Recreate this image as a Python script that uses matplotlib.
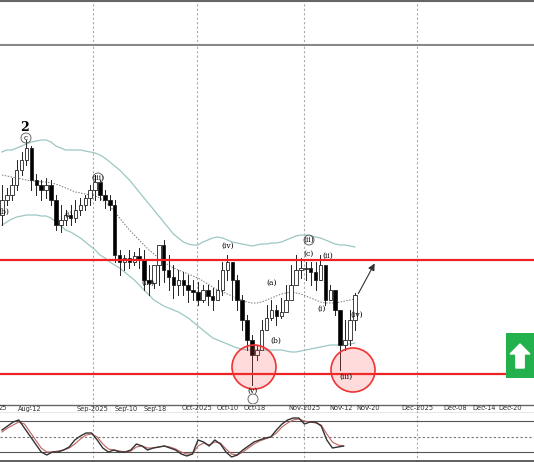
import matplotlib
matplotlib.use("Agg")
import matplotlib.pyplot as plt
from matplotlib.patches import Rectangle, FancyArrow, Ellipse

W, H = 534, 462
X0, DX = 2.0, 4.9
def ix(px): return (px - X0) / DX

closes = [200,195,185,170,160,148,180,185,190,185,200,225,220,215,218,210,205,198,190,182,
          195,200,205,255,262,258,262,256,260,280,283,265,245,270,277,285,280,285,290,292,
          300,290,296,300,290,270,262,280,300,320,340,355,350,330,318,310,316,312,300,285,
          270,268,268,272,280,265,300,290,310,345,340,320,295]
opens  = [215,200,195,185,170,160,148,180,185,190,185,200,225,220,215,218,210,205,198,190,
          182,195,200,205,255,262,258,262,256,260,280,283,265,245,270,277,285,280,285,290,
          292,300,290,296,300,290,270,262,280,300,320,340,355,350,330,318,310,316,312,300,
          285,270,268,268,272,280,265,300,290,310,345,340,320]
highs  = [185,188,178,160,152,140,146,174,180,178,180,195,205,210,205,200,198,195,185,175,
          180,190,195,200,250,255,250,252,248,250,265,270,255,240,255,265,270,272,275,280,
          282,285,285,288,280,262,255,262,275,295,315,335,345,320,305,300,305,298,285,265,
          255,258,262,262,262,255,270,285,295,315,320,310,293]
lows   = [225,205,200,190,175,165,190,195,200,198,205,230,232,225,225,222,215,210,205,200,
          200,208,210,262,275,270,268,265,268,290,295,288,285,282,290,298,295,295,302,300,
          305,302,305,310,300,295,280,300,310,330,350,385,360,345,330,320,325,318,310,295,
          280,278,280,285,290,280,305,300,315,370,350,345,330]
upper  = [152,150,150,148,146,144,142,141,140,140,142,146,148,150,150,150,150,151,152,153,
          155,158,162,166,170,175,180,186,192,198,204,210,216,222,228,234,238,242,244,245,
          245,242,240,238,237,238,240,242,243,244,245,246,245,244,244,243,243,242,240,238,
          236,235,235,236,237,238,240,242,244,245,245,246,247]
middle = [175,176,177,178,179,180,181,181,182,182,183,184,186,188,190,192,193,194,195,196,
          198,202,206,212,218,224,230,235,240,245,250,254,258,262,265,268,270,272,274,276,
          278,281,284,287,290,292,294,296,298,300,302,303,303,302,300,298,296,294,293,292,
          293,294,296,298,300,302,303,303,303,302,301,300,299]
lower  = [225,222,219,217,216,215,215,215,216,216,218,222,226,230,232,235,238,242,246,250,
          255,258,262,265,268,272,276,280,285,290,295,300,303,306,308,310,312,315,318,322,
          326,330,334,338,340,342,344,346,348,349,350,350,350,350,350,350,350,350,351,352,
          352,351,350,349,348,347,346,345,345,345,344,344,343]
osc_k  = [430,426,422,420,428,436,444,452,455,452,452,450,447,440,436,433,433,440,448,452,
          450,452,452,450,444,446,450,448,447,446,448,450,454,456,454,440,442,446,440,444,
          452,457,455,450,446,442,440,438,437,430,424,420,418,418,424,422,422,426,440,448,
          447,446]
osc_d  = [432,428,425,422,424,432,440,448,452,452,451,450,448,444,439,435,434,437,444,449,
          450,451,452,451,447,446,448,448,447,446,447,449,452,454,454,446,443,445,442,443,
          449,454,455,452,448,444,441,439,437,433,427,423,420,419,421,422,423,425,434,442,
          445,446]
osc_x_px = [2+5.6*i for i in range(len(osc_k))]

tick_px = [30, 93, 126, 155, 197, 228, 255, 304, 341, 368, 417, 455, 484, 510]
tick_labels = ["Aug-12","Sep-2025","Sep-10","Sep-18","Oct-2025","Oct-10","Oct-18",
               "Nov-2025","Nov-12","Nov-20","Dec-2025","Dec-08","Dec-14","Dec-20"]
month_px = [93, 197, 304, 417]

fig = plt.figure(figsize=(W/100, H/100), dpi=100)
def ax_px(top, bottom):
    a = fig.add_axes([0, 1 - bottom/H, 1, (bottom-top)/H])
    a.set_xlim(ix(0), ix(W)); a.set_ylim(bottom, top)
    a.set_xticks([]); a.set_yticks([])
    for s in a.spines.values(): s.set_visible(False)
    return a

top_ax = ax_px(0, 46)
main = ax_px(46, 404)
osc = ax_px(413, 462)
lab = ax_px(404, 413)

for a in (top_ax, main, osc, lab):
    for m in month_px:
        a.axvline(ix(m), color="#aaaaaa", lw=0.8, ls=(0, (2, 2)))
top_ax.axhline(1, color="#666", lw=1.5); top_ax.axhline(45, color="#888", lw=1.5)

n = len(closes)
xs = list(range(n))
main.plot(xs, upper, color="#9cc7c4", lw=0.9)
main.plot(xs, lower, color="#9cc7c4", lw=0.9)
main.plot(xs, middle, color="#777", lw=0.7, ls=(0, (1.5, 1.5)))
for i in xs:
    o, c, h, l = opens[i], closes[i], highs[i], lows[i]
    main.plot([i, i], [h, l], color="#222", lw=0.7, zorder=2)
    bot, hh = min(o, c), max(abs(c-o), 1)
    main.add_patch(Rectangle((i-0.36, bot), 0.72, hh, facecolor="black" if c > o else "white",
                             edgecolor="#222", lw=0.6, zorder=3))

main.axhline(260, color="#ee2222", lw=1.6, zorder=4)
main.axhline(374, color="#ee2222", lw=1.6, zorder=4)
for cx, cy in [(254, 367), (353, 370)]:
    main.add_patch(Ellipse((ix(cx), cy), 44/DX, 44, facecolor=(1, 0.3, 0.3, 0.2),
                           edgecolor="#ee3333", lw=1.2, zorder=5))
main.annotate("", xy=(ix(376), 261), xytext=(ix(357), 296),
              arrowprops=dict(arrowstyle="-|>", color="#333", lw=0.8), zorder=6)

labels = [("2",25,127,9),("c",26,138,5),("(iii)",98,178,5.5),("(i)",69,215,5.5),("(iii)",148,283,5.5),
          ("(iv)",228,246,5.5),("(a)",272,283,5.5),("(b)",276,341,5.5),("(v)",253,391,5.5),
          ("(ii)",309,240,5.5),("(c)",309,254,5.5),("(ii)",328,256,5.5),("(i)",322,309,5.5),
          ("(iv)",357,315,5.5),("(iii)",346,377,5.5),("(b)",4,212,5.5)]
for t, x, y, fs in labels:
    main.text(ix(x), y, t, fontsize=fs, ha="center", va="center", family="DejaVu Serif",
              fontweight="bold" if t == "2" else "normal", zorder=7)
for x, y in [(26,138),(98,178),(309,240),(253,399)]:
    main.add_patch(Ellipse((ix(x), y), 10/DX, 10, facecolor="none",
                   edgecolor="#555", lw=0.6, zorder=7))

main.add_patch(Rectangle((ix(506), 333), 28/DX, 45, facecolor="#22b14c", edgecolor="none", zorder=8))
main.add_patch(FancyArrow(ix(520), 368, 0, -24, width=7/DX*1.2, head_width=18/DX*1.1,
               head_length=10, length_includes_head=True, color="white", zorder=9))
main.set_ylim(404, 46)

lab.axhline(404.5, color="#666", lw=1); lab.axhline(412.5, color="#888", lw=1)
for p, t in zip(tick_px, tick_labels):
    lab.text(ix(p), 408.5, t, fontsize=4.8, color="#333", ha="center", va="center")
    lab.plot([ix(p), ix(p)], [404.5, 406.5], color="#666", lw=0.6)
lab.text(ix(3), 408.5, "25", fontsize=4.8, color="#333", ha="center", va="center")

osc.axhline(421, color="#555", lw=0.8)
osc.axhline(437, color="#777", lw=0.8, ls=(0, (2, 2)))
osc.axhline(452, color="#555", lw=0.8)
osc.axhline(461, color="#444", lw=1.2)
ox = [ix(p) for p in osc_x_px]
osc.plot(ox, osc_d, color="#c06060", lw=0.8)
osc.plot(ox, osc_k, color="#333", lw=1.0)
osc.set_ylim(462, 413)

fig.savefig("out.png", dpi=100)
